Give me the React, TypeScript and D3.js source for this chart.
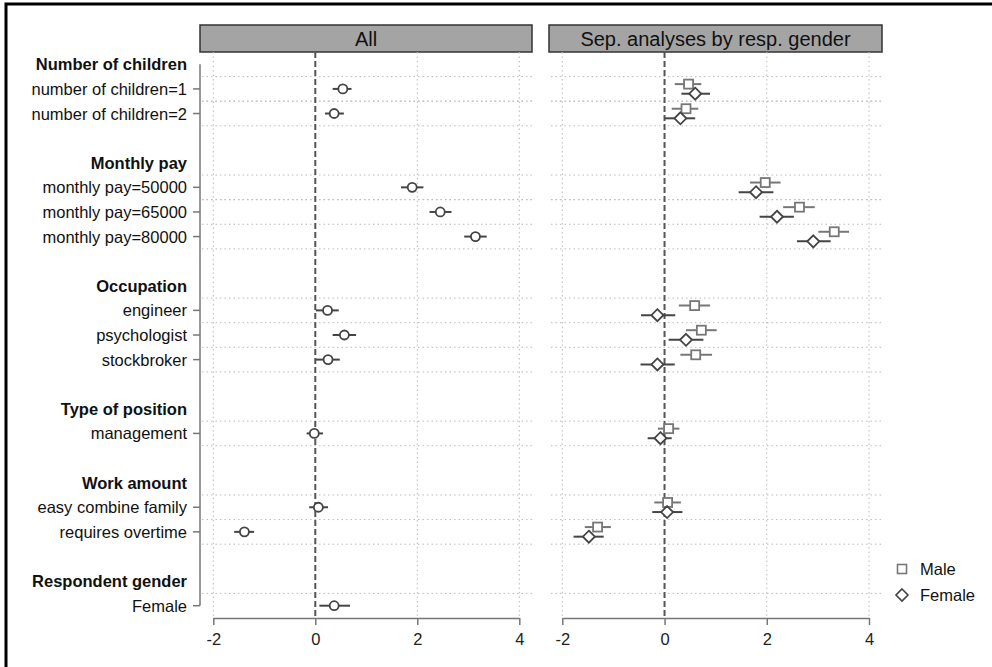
import React, { useEffect, useRef } from "react";
import * as d3 from "d3";

// groups and their items, top to bottom
const groupNames = [
  "Number of children",
  "Monthly pay",
  "Occupation",
  "Type of position",
  "Work amount",
  "Respondent gender",
];
const itemLabels = [
  ["number of children=1", "number of children=2"],
  ["monthly pay=50000", "monthly pay=65000", "monthly pay=80000"],
  ["engineer", "psychologist", "stockbroker"],
  ["management"],
  ["easy combine family", "requires overtime"],
  ["Female"],
];

// "All" panel estimates (one per item, same order)
const allEst = [0.54, 0.37, 1.9, 2.45, 3.14, 0.24, 0.57, 0.25, -0.02, 0.06, -1.39, 0.37];
const allLo = [0.34, 0.19, 1.68, 2.24, 2.92, 0.01, 0.34, 0.01, -0.17, -0.12, -1.59, 0.08];
const allHi = [0.71, 0.56, 2.12, 2.67, 3.36, 0.46, 0.8, 0.48, 0.15, 0.25, -1.2, 0.68];

// separate analyses (no gender row)
const maleEst = [0.47, 0.42, 1.97, 2.64, 3.32, 0.59, 0.72, 0.61, 0.08, 0.06, -1.31, null];
const maleLo = [0.2, 0.14, 1.67, 2.32, 3.01, 0.28, 0.42, 0.31, -0.13, -0.2, -1.56, null];
const maleHi = [0.72, 0.66, 2.27, 2.94, 3.61, 0.89, 1.02, 0.93, 0.29, 0.32, -1.05, null];
const femEst = [0.6, 0.31, 1.79, 2.2, 2.91, -0.14, 0.42, -0.14, -0.08, 0.05, -1.48, null];
const femLo = [0.33, 0.0, 1.45, 1.86, 2.59, -0.46, 0.08, -0.47, -0.33, -0.24, -1.78, null];
const femHi = [0.89, 0.6, 2.13, 2.53, 3.25, 0.21, 0.76, 0.2, 0.14, 0.35, -1.19, null];

const xTicks = [-2, 0, 2, 4];
const panelTitles = ["All", "Sep. analyses by resp. gender"];

const FONT = "Liberation Sans, Arial, sans-serif";

type Row = { kind: "header" | "item" | "blank"; label: string; idx: number };

// build the row layout
const rows: Row[] = [];
let k = 0;
groupNames.forEach((g, gi) => {
  rows.push({ kind: "header", label: g, idx: -1 });
  itemLabels[gi].forEach((lab) => rows.push({ kind: "item", label: lab, idx: k++ }));
  if (gi < groupNames.length - 1) rows.push({ kind: "blank", label: "", idx: -1 });
});

const top = 52;
const bottom = 618;
const y = d3.scaleBand<number>().domain(d3.range(rows.length)).range([top, bottom]);
const yc = (i: number) => (y(i) as number) + y.bandwidth() / 2;

const panels = [
  { x0: 200, x1: 532, x: d3.scaleLinear().domain([-2, 4]).range([213.3, 519.3]) },
  { x0: 549, x1: 882, x: d3.scaleLinear().domain([-2, 4]).range([562.3, 869]) },
];

function Axis({ scale }: { scale: d3.ScaleLinear<number, number> }) {
  const ref = useRef<SVGGElement>(null);
  useEffect(() => {
    const g = d3.select(ref.current);
    g.selectAll("*").remove();
    g.call(
      d3.axisBottom(scale).tickValues(xTicks).tickSize(7).tickSizeOuter(0).tickFormat((d) => String(d))
    );
    g.select(".domain").attr("stroke", "#777").attr("stroke-width", 1.5);
    g.selectAll(".tick line").attr("stroke", "#777").attr("stroke-width", 1.5);
    g.selectAll(".tick text")
      .attr("fill", "#222")
      .attr("font-size", 16.5)
      .attr("font-family", FONT)
      .attr("dy", "1.05em");
  }, [scale]);
  return <g ref={ref} transform={`translate(0,${bottom})`} />;
}

function diamond(cx: number, cy: number, r: number) {
  return `M${cx},${cy - r}L${cx + r},${cy}L${cx},${cy + r}L${cx - r},${cy}Z`;
}

export default function App() {
  const itemRows = rows.map((r, i) => ({ ...r, i })).filter((r) => r.kind === "item");
  const gridYs = Array.from(
    new Set(itemRows.flatMap((r) => [y(r.i) as number, (y(r.i) as number) + y.bandwidth()]))
  ).filter((v) => v < bottom - 1);

  const off = 4.8;

  return (
    <div style={{ position: "absolute", left: 0, top: 0 }}>
      <svg width={992} height={667} style={{ display: "block", background: "#fff" }} fontFamily={FONT}>
        <rect x={6} y={4} width={1000} height={700} fill="none" stroke="#000" strokeWidth={3} />

        {panels.map((p, pi) => (
          <g key={pi}>
            <rect x={p.x0} y={25} width={p.x1 - p.x0} height={27} fill="#a4a4a4" stroke="#333" strokeWidth={1.5} />
            <text x={(p.x0 + p.x1) / 2} y={39} textAnchor="middle" dominantBaseline="central" fontSize={20} fill="#111">
              {panelTitles[pi]}
            </text>
            {gridYs.map((gy) => (
              <line key={gy} x1={p.x0 + 2} x2={p.x1} y1={gy} y2={gy} stroke="#bbb" strokeWidth={1} strokeDasharray="1.5,3" />
            ))}
            {xTicks
              .filter((t) => t !== 0)
              .map((t) => (
                <line key={t} x1={p.x(t)} x2={p.x(t)} y1={top} y2={bottom} stroke="#bbb" strokeWidth={1} strokeDasharray="1.5,3" />
              ))}
            <line x1={p.x(0)} x2={p.x(0)} y1={top} y2={bottom} stroke="#555" strokeWidth={2} strokeDasharray="6,3" />
            <Axis scale={p.x} />
          </g>
        ))}

        {/* y axis */}
        <line x1={200} x2={200} y1={yc(0)} y2={yc(rows.length - 1)} stroke="#777" strokeWidth={1.5} />
        {rows.map((r, i) =>
          r.kind === "blank" ? null : (
            <g key={i}>
              {r.kind === "item" && <line x1={193} x2={200} y1={yc(i)} y2={yc(i)} stroke="#777" strokeWidth={1.5} />}
              <text
                x={187}
                y={yc(i)}
                textAnchor="end"
                dominantBaseline="central"
                fontSize={16.5}
                fontWeight={r.kind === "header" ? "bold" : "normal"}
                fill="#111"
              >
                {r.label}
              </text>
            </g>
          )
        )}

        {/* All panel: circles */}
        {itemRows.map((r) => {
          const x = panels[0].x;
          const cy = yc(r.i);
          return (
            <g key={"a" + r.idx}>
              <line x1={x(allLo[r.idx])} x2={x(allHi[r.idx])} y1={cy} y2={cy} stroke="#444" strokeWidth={2} />
              <circle cx={x(allEst[r.idx])} cy={cy} r={4.5} fill="#fff" stroke="#444" strokeWidth={1.8} />
            </g>
          );
        })}

        {/* separate panel: male squares, female diamonds */}
        {itemRows.map((r) => {
          const x = panels[1].x;
          const m = maleEst[r.idx];
          const f = femEst[r.idx];
          if (m == null || f == null) return null;
          const cy = yc(r.i);
          return (
            <g key={"s" + r.idx}>
              <line x1={x(maleLo[r.idx] as number)} x2={x(maleHi[r.idx] as number)} y1={cy - off} y2={cy - off} stroke="#777" strokeWidth={2} />
              <rect x={x(m) - 4.5} y={cy - off - 4.5} width={9} height={9} fill="#fff" stroke="#777" strokeWidth={1.8} />
              <line x1={x(femLo[r.idx] as number)} x2={x(femHi[r.idx] as number)} y1={cy + off} y2={cy + off} stroke="#444" strokeWidth={2} />
              <path d={diamond(x(f), cy + off, 6)} fill="#fff" stroke="#444" strokeWidth={1.8} />
            </g>
          );
        })}

        {/* legend */}
        <rect x={897.5} y={564.5} width={9} height={9} fill="#fff" stroke="#777" strokeWidth={1.6} />
        <text x={920} y={569} dominantBaseline="central" fontSize={16.5} fill="#111">Male</text>
        <path d={diamond(902, 595, 6)} fill="#fff" stroke="#444" strokeWidth={1.6} />
        <text x={920} y={595} dominantBaseline="central" fontSize={16.5} fill="#111">Female</text>
      </svg>
    </div>
  );
}
